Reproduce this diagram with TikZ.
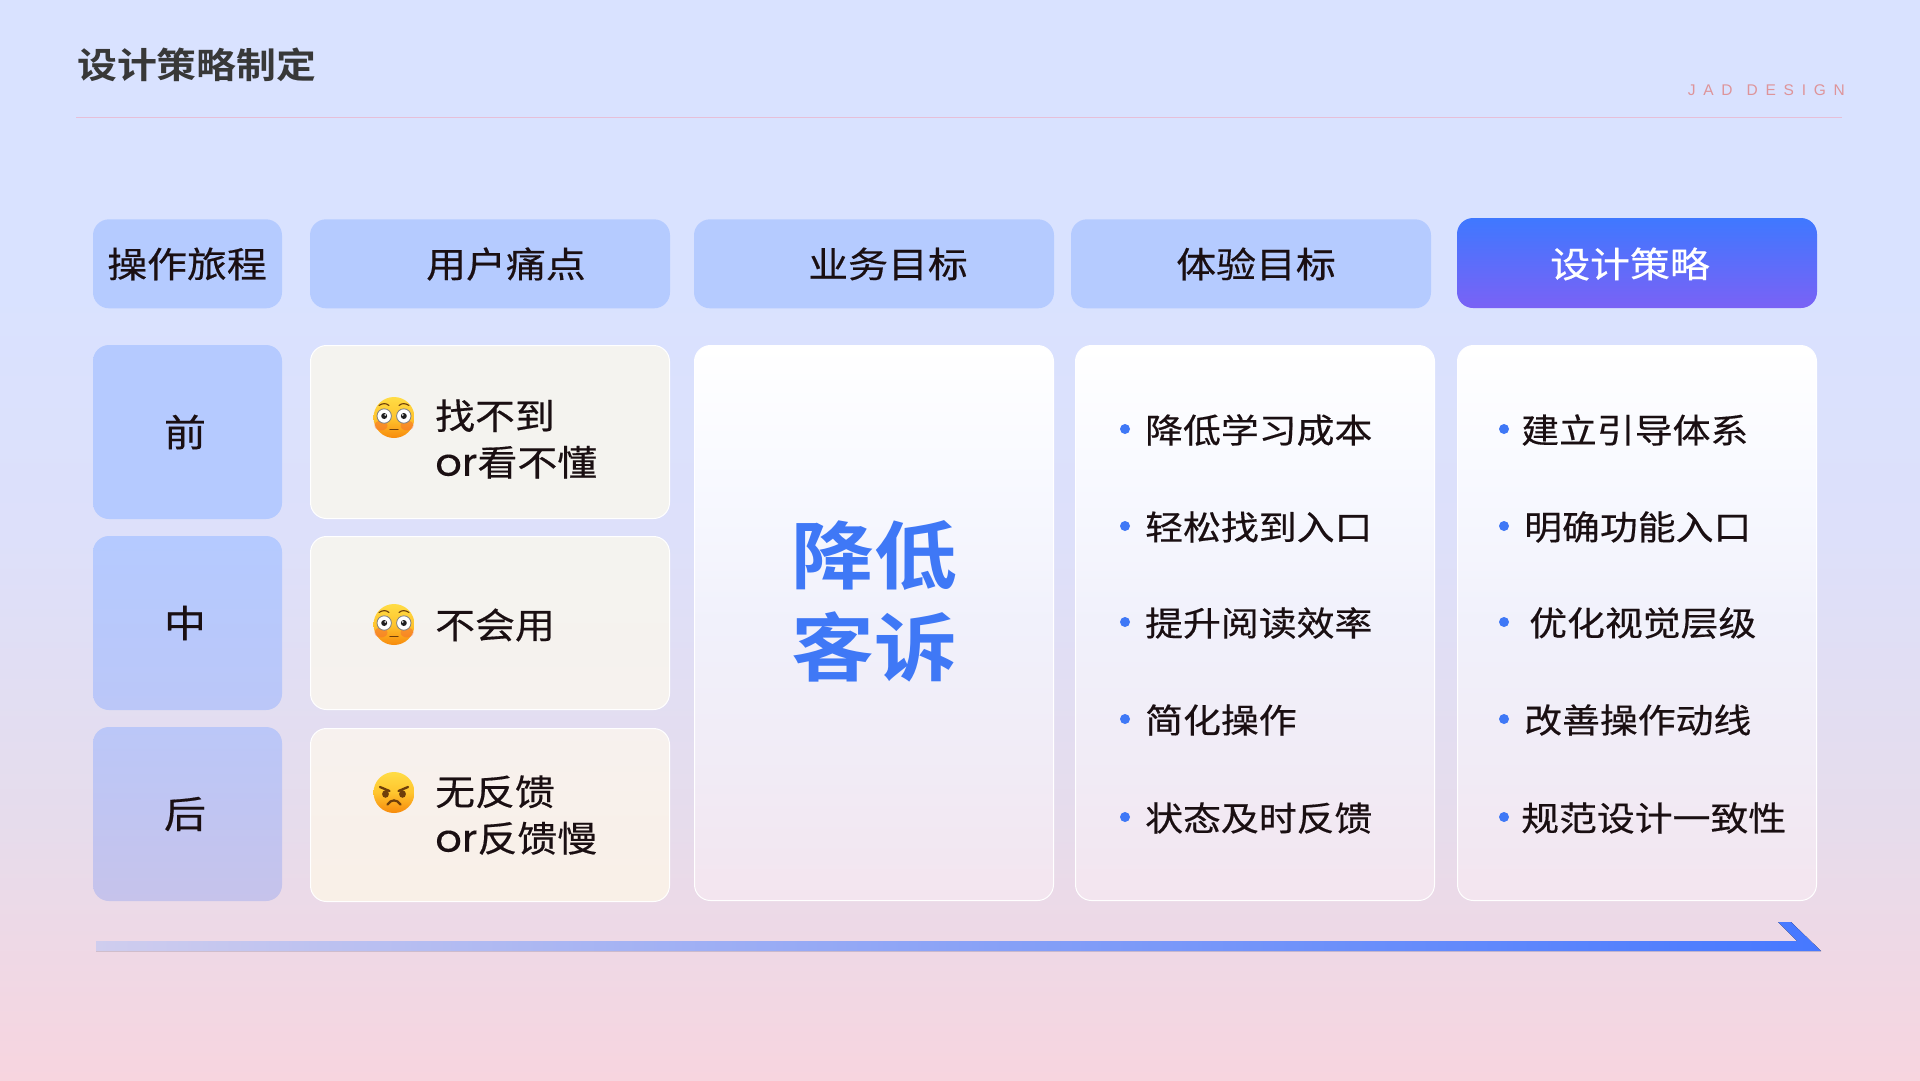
\documentclass[tikz,border=0pt]{standalone}
\usepackage{fontspec}
\setmainfont{Noto Sans CJK SC}
\newfontfamily\cjkreg[FakeStretch=1.12,FakeBold=0.45]{Noto Sans CJK SC}
\newfontfamily\cjkbold[FakeStretch=1.12,BoldFont={Noto Sans CJK SC Bold}]{Noto Sans CJK SC}
\newfontfamily\orfont[FakeStretch=1.1,FakeBold=0.2]{Poppins}
\newfontfamily\latinfont[LetterSpace=50]{Liberation Sans}
\pgfdeclareverticalshading{bgshade}{100bp}{
 rgb(0bp)=(0.969,0.835,0.875);
 rgb(25bp)=(0.969,0.835,0.875);
 rgb(37bp)=(0.902,0.863,0.925);
 rgb(50bp)=(0.867,0.878,0.980);
 rgb(62bp)=(0.851,0.886,1);
 rgb(75bp)=(0.851,0.886,1);
 rgb(100bp)=(0.851,0.886,1)}
\pgfdeclareverticalshading{goalshade}{100bp}{
 rgb(0bp)=(0.953,0.898,0.937);
 rgb(25bp)=(0.953,0.898,0.937);
 rgb(38bp)=(0.945,0.925,0.965);
 rgb(50bp)=(0.945,0.945,0.985);
 rgb(62bp)=(0.97,0.975,1);
 rgb(75bp)=(1,1,1);
 rgb(100bp)=(1,1,1)}
\definecolor{hdr}{HTML}{B5CBFF}
\definecolor{accent}{HTML}{3F78F6}
\definecolor{ink}{HTML}{1A0F12}
\definecolor{titlec}{HTML}{383838}
\definecolor{brand}{HTML}{DE9499}
\definecolor{rulec}{HTML}{E6BFD8}
\definecolor{hiA}{HTML}{3F78FF}
\definecolor{hiB}{HTML}{7A62F5}
\definecolor{laneA}{HTML}{B5CAFF}
\definecolor{laneB}{HTML}{BBC7F8}
\definecolor{laneC}{HTML}{C6C3EB}
\definecolor{painA}{HTML}{F4F3EF}
\definecolor{painB}{HTML}{F6F2EE}
\definecolor{painC}{HTML}{F7F1EE}
\definecolor{painD}{HTML}{F9F0E7}
\definecolor{arrA}{HTML}{CFCDEE}
\definecolor{arrB}{HTML}{4678FF}
\definecolor{facetop}{HTML}{FFDC45}
\definecolor{facemid}{HTML}{FFC52E}
\definecolor{facebot}{HTML}{F78A0C}
\definecolor{cheek}{HTML}{F5652E}
\definecolor{browc}{HTML}{6E3E0A}
\tikzset{
 x=1pt,y=-1pt,
 cell/.style={rectangle,rounded corners=16pt,inner sep=0pt,minimum width=360pt,draw=none},
 hdrcell/.style={cell,fill=hdr,minimum height=89pt},
 lanecell/.style={cell,minimum width=189pt,minimum height=174pt},
 paincell/.style={cell,minimum width=359pt,minimum height=173pt,draw=white,line width=1pt},
 whitecell/.style={cell,minimum width=359pt,draw=white,line width=1pt,minimum height=555pt,shading=goalshade},
 hdrtext/.style={font=\cjkreg\fontsize{35.6}{35.6}\selectfont,text=ink,inner sep=0pt},
 lanetext/.style={font=\cjkreg\fontsize{37.5}{37.5}\selectfont,text=ink,inner sep=0pt},
 itemtext/.style={font=\cjkreg\fontsize{33.8}{33.8}\selectfont,text=ink,inner sep=0pt,anchor=west},
 paintext/.style={font=\cjkreg\fontsize{35.6}{46.5}\selectfont,text=ink,inner sep=0pt,anchor=west,align=left},
 dotmark/.style={circle,fill=accent,minimum size=10pt,inner sep=0pt},
 faceball/.style={top color=facetop,bottom color=facebot,middle color=facemid},
}
\newcommand{\flushed}[2]{%
 \begin{scope}[shift={(#1,#2)}]
 \shade[faceball] (0,0) circle [radius=20.5];
 \fill[cheek,opacity=.45] (-13,8) ellipse [x radius=6.5,y radius=5];
 \fill[cheek,opacity=.45] (13,8) ellipse [x radius=6.5,y radius=5];
 \foreach \s in {-1,1}{
  \filldraw[fill=white,draw=black!50,line width=.8pt] (\s*9.8,-1.5) circle [radius=7.2];
  \fill[black!88] (\s*9.8,-1.5) circle [radius=3];
  \fill[white] (\s*8.8,-2.6) circle [radius=.9];
  \draw[browc,line width=1.1pt,line cap=round] (\s*15,-12) .. controls (\s*11.5,-14.5) and (\s*7.5,-14.5) .. (\s*5,-12);
 }
 \draw[browc,line width=1.4pt,line cap=round] (-4,12) -- (4,12);
 \end{scope}}
\newcommand{\angryface}[2]{%
 \begin{scope}[shift={(#1,#2)}]
 \shade[faceball] (0,0) circle [radius=20.5];
 \foreach \s in {-1,1}{
  \fill[browc] (\s*8.5,1.5) ellipse [x radius=3.4,y radius=3.8];
  \draw[browc,line width=2.3pt,line cap=round] (\s*14,-5.5) -- (\s*4.5,-1.5);
 }
 \draw[browc,line width=2.2pt,line cap=round] (-6.5,12) .. controls (-3,6.5) and (3,6.5) .. (6.5,12);
 \end{scope}}
\begin{document}
\begin{tikzpicture}
\useasboundingbox (0,0) rectangle (1920,1080);
\shade[shading=bgshade] (0,0) rectangle (1920,1080);
% title
\node[font=\cjkbold\bfseries\fontsize{35.6}{35.6}\selectfont,text=titlec,inner sep=0pt,anchor=west] (title) at (77,65) {设计策略制定};
\node[font=\latinfont\fontsize{15.5}{15.5}\selectfont,text=brand,inner sep=0pt,anchor=east] (brand) at (1845,90) {JAD\hspace{14pt}DESIGN};
\draw[rulec,line width=1pt] (76,117.5) -- (1842,117.5);
% headers
\node[hdrcell,minimum width=189pt] (h1) at (187.5,263.8) {};
\node[hdrcell] (h2) at (490,263.8) {};
\node[hdrcell] (h3) at (874,263.8) {};
\node[hdrcell] (h4) at (1251,263.8) {};
\node[cell,minimum height=90pt,top color=hiA,bottom color=hiB] (h5) at (1637,263) {};
\node[hdrtext] (ht1) at (187,264) {操作旅程};
\node[hdrtext] (ht2) at (506,264) {用户痛点};
\node[hdrtext] (ht3) at (888,264) {业务目标};
\node[hdrtext] (ht4) at (1256,264) {体验目标};
\node[hdrtext,text=white] (ht5) at (1630,264) {设计策略};
% lanes
\node[lanecell,top color=laneA,bottom color=laneA] (l1) at (187.5,432) {};
\node[lanecell,top color=laneA,bottom color=laneB] (l2) at (187.5,623) {};
\node[lanecell,top color=laneB,bottom color=laneC] (l3) at (187.5,814) {};
\node[lanetext] (lt1) at (185,432) {前};
\node[lanetext] (lt2) at (185,623) {中};
\node[lanetext] (lt3) at (185,814) {后};
% pain
\node[paincell,fill=painA] (p1) at (490,432) {};
\node[paincell,top color=painA,bottom color=painB] (p2) at (490,623) {};
\node[paincell,top color=painC,bottom color=painD] (p3) at (490,815) {};
\flushed{394}{417.5}
\flushed{394}{624.5}
\angryface{394}{792.5}
\node[paintext] (t1) at (435,439) {找不到\\{\orfont\fontsize{38}{46.5}\selectfont or}看不懂};
\node[paintext] (t2) at (435,625) {不会用};
\node[paintext] (t3) at (435,815) {无反馈\\{\orfont\fontsize{38}{46.5}\selectfont or}反馈慢};
% goal
\node[whitecell] (g) at (874,623) {};
\node[font=\cjkbold\bfseries\fontsize{74}{92}\selectfont,text=accent,align=center,inner sep=0pt] (gt) at (874,601) {降低\\客诉};
% experience
\node[whitecell] (x) at (1255,623) {};
\foreach \n/\y/\s in {1/430/降低学习成本,2/527/轻松找到入口,3/623/提升阅读效率,4/720/简化操作,5/818/状态及时反馈}{
 \node[dotmark] (xd\n) at (1125,\y-1) {};
 \node[itemtext] (xt\n) at (1145,\y) {\s};
}
% strategy
\node[whitecell] (s) at (1637,623) {};
\foreach \n/\y/\xx/\s in {1/430/1521/建立引导体系,2/527/1524/明确功能入口,3/623/1529/优化视觉层级,4/720/1524/改善操作动线,5/818/1521/规范设计一致性}{
 \node[dotmark] (sd\n) at (1504,\y-1) {};
 \node[itemtext] (st\n) at (\xx,\y) {\s};
}
% arrow
\fill[left color=arrA,right color=arrB] (96,941) -- (1797,941) -- (1778,922) -- (1791,922) -- (1821,951) -- (96,951) -- cycle;
\end{tikzpicture}
\end{document}
